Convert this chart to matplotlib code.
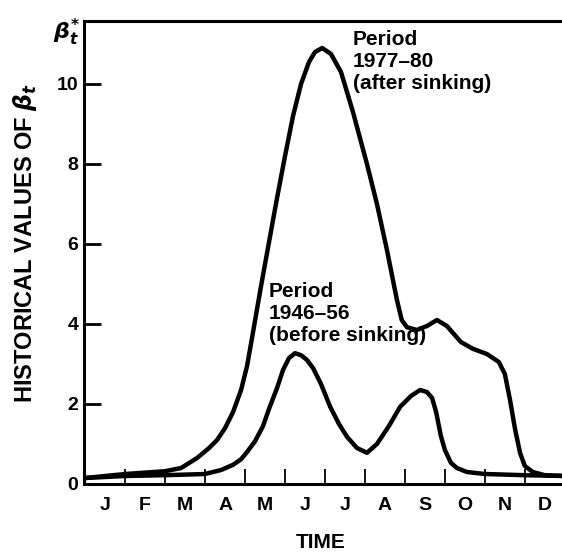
import matplotlib.pyplot as plt
import numpy as np

plt.rcParams.update({'font.family': 'Liberation Sans', 'font.weight': 'bold',
                     'mathtext.fontset': 'dejavusans'})

# time in months (0 = start of January)
after_x = [0, 1, 2, 2.4, 2.8, 3.1, 3.3, 3.5, 3.7, 3.9, 4.05, 4.2, 4.4, 4.6, 4.8, 5.0,
           5.2, 5.4, 5.6, 5.75, 5.93, 6.15, 6.4, 6.7, 7.05, 7.3, 7.55, 7.8, 7.92, 8.05,
           8.3, 8.55, 8.8, 9.05, 9.4, 9.7, 10.05, 10.35, 10.5, 10.63, 10.75, 10.88,
           11.0, 11.2, 11.5, 12]
after_y = [0.15, 0.25, 0.32, 0.4, 0.65, 0.9, 1.1, 1.4, 1.8, 2.35, 2.95, 3.8, 4.95, 6.05,
           7.15, 8.2, 9.2, 10.0, 10.55, 10.8, 10.9, 10.75, 10.3, 9.3, 8.0, 7.0, 5.85,
           4.6, 4.1, 3.92, 3.85, 3.95, 4.1, 3.95, 3.55, 3.38, 3.25, 3.05, 2.75, 2.1, 1.4,
           0.78, 0.45, 0.3, 0.22, 0.2]

before_x = [0, 1, 2, 3, 3.4, 3.7, 3.9, 4.05, 4.25, 4.45, 4.6, 4.8, 4.95, 5.1, 5.25, 5.4,
            5.55, 5.7, 5.9, 6.13, 6.35, 6.55, 6.8, 7.05, 7.3, 7.6, 7.88, 8.15, 8.38,
            8.55, 8.68, 8.78, 8.9, 9.0, 9.15, 9.3, 9.55, 10, 11, 12]
before_y = [0.15, 0.2, 0.22, 0.25, 0.35, 0.48, 0.62, 0.8, 1.07, 1.45, 1.88, 2.4, 2.85,
            3.15, 3.27, 3.22, 3.1, 2.9, 2.5, 1.93, 1.5, 1.18, 0.9, 0.78, 1.0, 1.45, 1.93,
            2.2, 2.35, 2.3, 2.15, 1.8, 1.2, 0.85, 0.53, 0.4, 0.3, 0.25, 0.22, 0.2]

months = ['J', 'F', 'M', 'A', 'M', 'J', 'J', 'A', 'S', 'O', 'N', 'D']
yticks = [0, 2, 4, 6, 8, 10]

fig = plt.figure(figsize=(5.62, 5.58), dpi=100)
ax = fig.add_axes([84 / 562, 74 / 558, 1 - 84 / 562, 463 / 558])

ax.plot(after_x, after_y, color='k', lw=3.2, solid_joinstyle='round', solid_capstyle='round')
ax.plot(before_x, before_y, color='k', lw=3.2, solid_joinstyle='round', solid_capstyle='round')

ax.set_xlim(-0.03, 11.93)
ax.set_ylim(0, 11.575)

ax.spines['right'].set_visible(False)
for s in ['left', 'bottom', 'top']:
    ax.spines[s].set_linewidth(2.2)

ax.set_xticks(np.arange(1, 12))
ax.set_xticklabels([])
ax.set_xticks(np.arange(12) + 0.5, minor=True)
ax.set_xticklabels(months, minor=True)
ax.tick_params(axis='x', which='major', direction='in', length=11, width=1.3)
ax.tick_params(axis='x', which='minor', length=0, pad=9, labelsize=14)

ax.set_yticks(yticks)
ax.set_yticklabels([str(v) for v in yticks])
ax.tick_params(axis='y', direction='in', length=12, width=2, pad=4, labelsize=14)

fig.text(321 / 562, 1 - 542 / 558, 'TIME', ha='center', va='center',
         fontsize=15, fontweight='bold')
fig.text(25 / 562, 1 - 243 / 558, r'HISTORICAL VALUES OF $\beta_t$', rotation=90,
         ha='center', va='center', fontsize=17, fontweight='bold')
fig.text(67 / 562, 1 - 32 / 558, r'$\beta_t^{*}$', ha='center', va='center', fontsize=16)

ax.text(6.7, 11.35, 'Period\n1977\u201380\n(after sinking)', ha='left', va='top',
        fontsize=15, linespacing=1.2)
ax.text(4.6, 5.05, 'Period\n1946\u201356\n(before sinking)', ha='left', va='top',
        fontsize=15, linespacing=1.2)

fig.savefig('out.png', dpi=100)
